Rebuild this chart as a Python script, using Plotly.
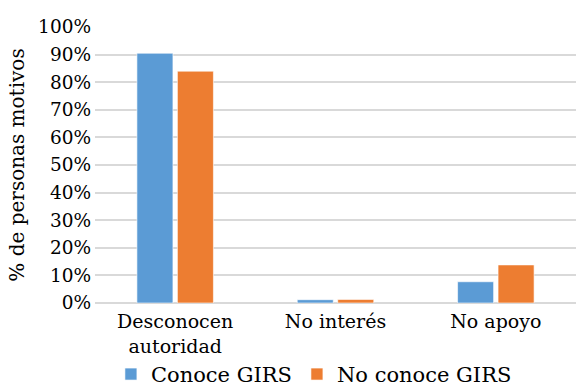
import plotly.graph_objects as go

categories = ["Desconocen<br>autoridad", "No interés", "No apoyo"]
conoce = [0.905, 0.012, 0.077]
no_conoce = [0.84, 0.013, 0.138]
series_names = ["Conoce GIRS", "No conoce GIRS"]
colors = ["#5B9BD5", "#ED7D31"]

font_family = "DejaVu Serif"

fig = go.Figure()
for name, vals, col in zip(series_names, [conoce, no_conoce], colors):
    fig.add_trace(go.Bar(
        x=categories, y=vals, name=name,
        marker=dict(color=col, line=dict(color="rgba(255,255,255,0.6)", width=1)),
    ))

fig.update_layout(
    width=576, height=390,
    margin=dict(l=95, r=0, t=27, b=87),
    paper_bgcolor="white", plot_bgcolor="white",
    barmode="group", bargap=0.495, bargroupgap=0.11,
    font=dict(family=font_family, size=19, color="#000000"),
    legend=dict(
        orientation="h", x=0.545, xanchor="center", xref="container",
        y=0.04, yanchor="middle", yref="container",
        bgcolor="rgba(0,0,0,0)",
        font=dict(family=font_family, size=21), traceorder="normal",
        itemwidth=30,
    ),
    showlegend=True,
)
fig.update_yaxes(
    range=[0, 1.0], dtick=0.1, tickformat=".0%",
    showgrid=True, gridcolor="#D9D9D9", gridwidth=2,
    zeroline=True, zerolinecolor="#D9D9D9", zerolinewidth=2,
    showline=False, ticks="", ticklabelstandoff=3, automargin=False,
    tickfont=dict(family=font_family, size=18.5),
    title=dict(text="% de personas motivos", font=dict(family=font_family, size=20), standoff=8),
)
fig.update_xaxes(
    showline=False, ticks="", tickangle=0, automargin=False,
    tickfont=dict(family=font_family, size=19),
    ticklabelstandoff=5,
)

fig.write_html("out.html")
